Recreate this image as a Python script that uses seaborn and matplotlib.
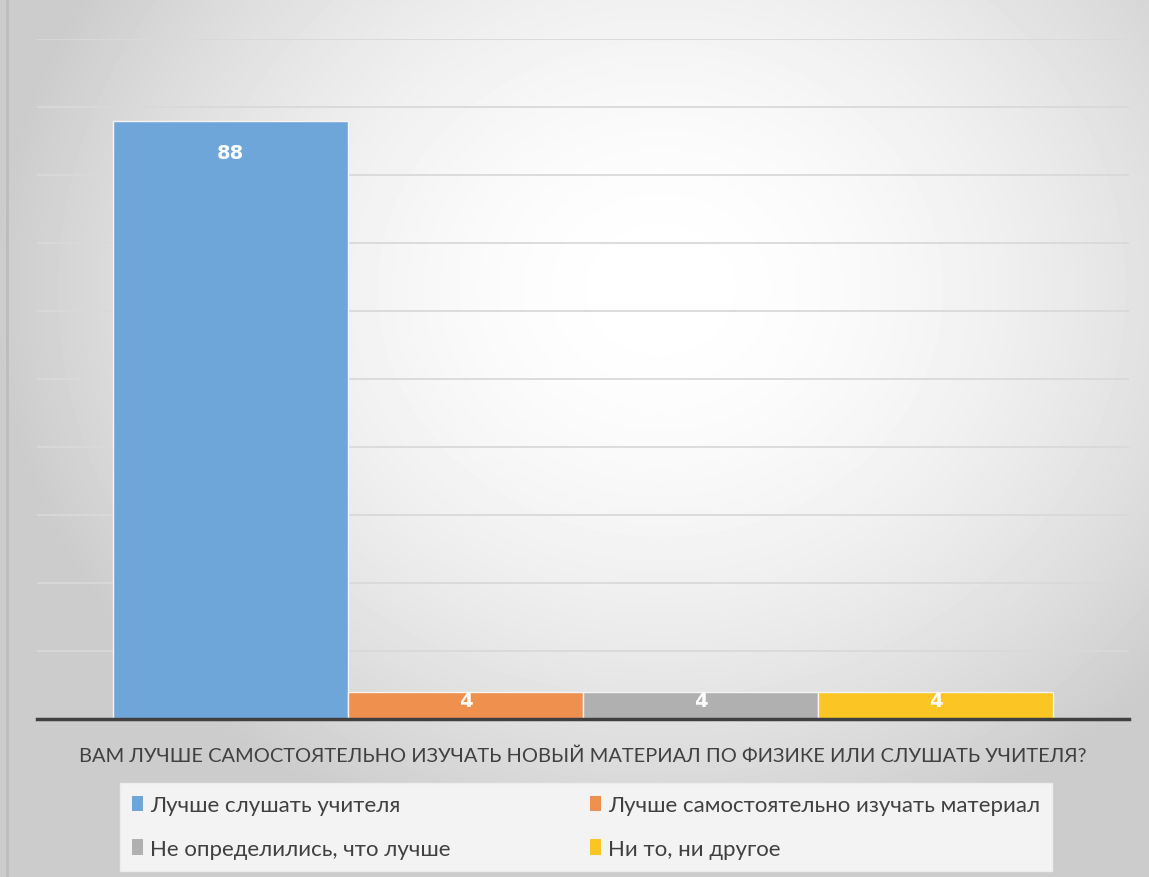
import matplotlib
matplotlib.use("Agg")
import matplotlib.pyplot as plt
import seaborn as sns
import numpy as np
import pandas as pd
from matplotlib.patches import Patch
from matplotlib.lines import Line2D

# Data
question = "ВАМ ЛУЧШЕ САМОСТОЯТЕЛЬНО ИЗУЧАТЬ НОВЫЙ МАТЕРИАЛ ПО ФИЗИКЕ ИЛИ СЛУШАТЬ УЧИТЕЛЯ?"
answers = ["Лучше слушать учителя", "Лучше самостоятельно изучать материал",
           "Не определились, что лучше", "Ни то, ни другое"]
values = [88, 4, 4, 4]
colors = ["#6FA6DA", "#F0904F", "#B0B0B0", "#FBC524"]

df = pd.DataFrame({"question": [question] * len(answers), "answer": answers, "value": values})

sns.set_theme(style="white")
plt.rcParams["font.family"] = ["Lato", "DejaVu Sans"]

fig = plt.figure(figsize=(11.49, 8.78), dpi=100)

# radial gradient background
bg = fig.add_axes([0, 0, 1, 1], zorder=-10)
yy, xx = np.mgrid[0:878, 0:1149]
r = np.sqrt(((xx - 660) / 800.0) ** 2 + ((yy - 290) / 700.0) ** 2)
shade = np.clip(1.0 - 0.28 * r ** 1.8, 0.8, 1.0)
bg.imshow(shade, cmap="gray", vmin=0, vmax=1, extent=[0, 1, 0, 1], aspect="auto")
bg.axis("off")
fig.add_artist(Line2D([6.5 / 1149, 6.5 / 1149], [0, 1], color="#bdbdbd", lw=2, transform=fig.transFigure))

ax = fig.add_axes([0.032, 0.18, 0.951, 0.7745])
ax.set_facecolor("none")
sns.barplot(data=df, x="question", y="value", hue="answer", hue_order=answers,
            palette=colors, width=0.86, saturation=1, legend=False,
            edgecolor="#f4f4f4", linewidth=1, ax=ax)

ax.set_ylim(0, 100)
ax.set_xlim(-0.5, 0.5)
ax.set_yticks(np.arange(0, 101, 10))
ax.yaxis.grid(True, color="#d9d9d9", linewidth=1.3)
ax.set_axisbelow(True)
ax.tick_params(left=False, labelleft=False, bottom=False, axis="both")
ax.tick_params(axis="x", pad=14, labelsize=14.4, labelcolor="#404040")
ax.set_xlabel("")
ax.set_ylabel("")
for s in ["top", "left", "right"]:
    ax.spines[s].set_visible(False)
ax.spines["bottom"].set_color("#404040")
ax.spines["bottom"].set_linewidth(2.5)

for cont in ax.containers:
    h = cont.datavalues[0]
    pad = -30 if h > 10 else -13
    ax.bar_label(cont, labels=[f"{int(v)}" for v in cont.datavalues], padding=pad,
                 color="white", fontsize=14, fontweight="bold", family="DejaVu Sans")

# legend filled row by row
order = [0, 2, 1, 3]
handles = [Patch(facecolor=colors[i], edgecolor="none") for i in order]
labels = [answers[i] for i in order]
leg = fig.legend(handles, labels, loc="center", bbox_to_anchor=(0.51, 0.057), ncol=2,
                 frameon=True, facecolor="#f3f3f3", edgecolor="#ececec", fancybox=False,
                 fontsize=16, handlelength=0.5, handleheight=0.7, handletextpad=0.3,
                 columnspacing=6.3, labelspacing=1.05, borderpad=0.55, labelcolor="#404040")
leg.get_frame().set_alpha(1)

fig.savefig("out.png", dpi=100)
